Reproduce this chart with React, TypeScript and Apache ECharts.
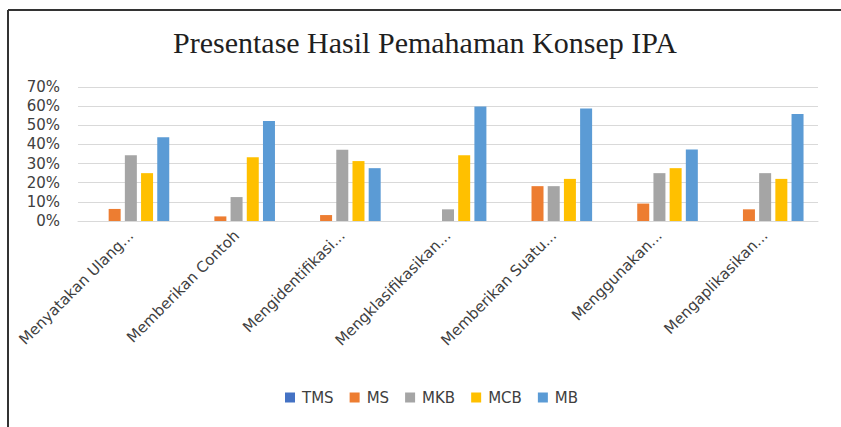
import React, { useEffect, useRef } from "react";
import * as echarts from "echarts";

const titleText = "Presentase Hasil Pemahaman Konsep IPA";
const categories = [
  "Menyatakan Ulang...",
  "Memberikan Contoh",
  "Mengidentifikasi...",
  "Mengklasifikasikan...",
  "Memberikan Suatu...",
  "Menggunakan...",
  "Mengaplikasikan...",
];
const seriesNames = ["TMS", "MS", "MKB", "MCB", "MB"];
const tms = [0, 0, 0, 0, 0, 0, 0];
const ms = [0.063, 0.024, 0.031, 0, 0.182, 0.091, 0.061];
const mkb = [0.344, 0.125, 0.372, 0.061, 0.182, 0.25, 0.25];
const mcb = [0.25, 0.333, 0.313, 0.344, 0.22, 0.276, 0.22];
const mb = [0.438, 0.522, 0.276, 0.598, 0.588, 0.373, 0.559];
const colors = ["#4472C4", "#ED7D31", "#A5A5A5", "#FFC000", "#5B9BD5"];

export default function App() {
  const ref = useRef<HTMLDivElement>(null);
  useEffect(() => {
    if (!ref.current) return;
    const chart = echarts.init(ref.current, undefined, { renderer: "svg" });
    const values = [tms, ms, mkb, mcb, mb];
    const font = "DejaVu Sans";
    chart.setOption({
      animation: false,
      backgroundColor: "#ffffff",
      title: {
        text: titleText,
        left: 173,
        top: 27,
        padding: 0,
        textStyle: {
          fontFamily: "Liberation Serif",
          fontSize: 30,
          fontWeight: "normal",
          color: "#1f1f1f",
        },
      },
      legend: {
        data: seriesNames,
        left: 280,
        top: 385,
        itemWidth: 10,
        itemHeight: 10,
        itemGap: 16,
        icon: "rect",
        textStyle: {
          fontFamily: font,
          fontSize: 15,
          color: "#404040",
          padding: [0, 0, 0, 2],
        },
      },
      grid: { left: 78, right: 23, top: 87, bottom: 206 },
      xAxis: {
        type: "category",
        data: categories,
        axisLine: { lineStyle: { color: "#d9d9d9", width: 1 } },
        axisTick: { show: false },
        axisLabel: {
          interval: 0,
          rotate: 45,
          margin: 12,
          verticalAlign: "middle",
          fontFamily: font,
          fontSize: 15,
          color: "#404040",
        },
      },
      yAxis: {
        type: "value",
        min: 0,
        max: 0.7,
        interval: 0.1,
        axisLine: { show: false },
        axisTick: { show: false },
        axisLabel: {
          margin: 18,
          fontFamily: font,
          fontSize: 15,
          color: "#404040",
          formatter: (v: number) => Math.round(v * 100) + "%",
        },
        splitLine: { lineStyle: { color: "#d9d9d9", width: 1 } },
      },
      series: seriesNames.map((name, i) => ({
        name,
        type: "bar",
        data: values[i],
        barWidth: 12,
        barGap: "35%",
        itemStyle: { color: colors[i] },
      })),
      graphic: [
        {
          type: "line",
          shape: { x1: 8, y1: 10, x2: 8, y2: 427 },
          style: { stroke: "#333333", lineWidth: 2 },
        },
        {
          type: "line",
          shape: { x1: 8, y1: 10, x2: 841, y2: 10 },
          style: { stroke: "#333333", lineWidth: 2 },
        },
      ],
    });
    return () => chart.dispose();
  }, []);
  return (
    <div
      ref={ref}
      style={{ position: "fixed", left: 0, top: 0, width: 841, height: 427 }}
    />
  );
}
